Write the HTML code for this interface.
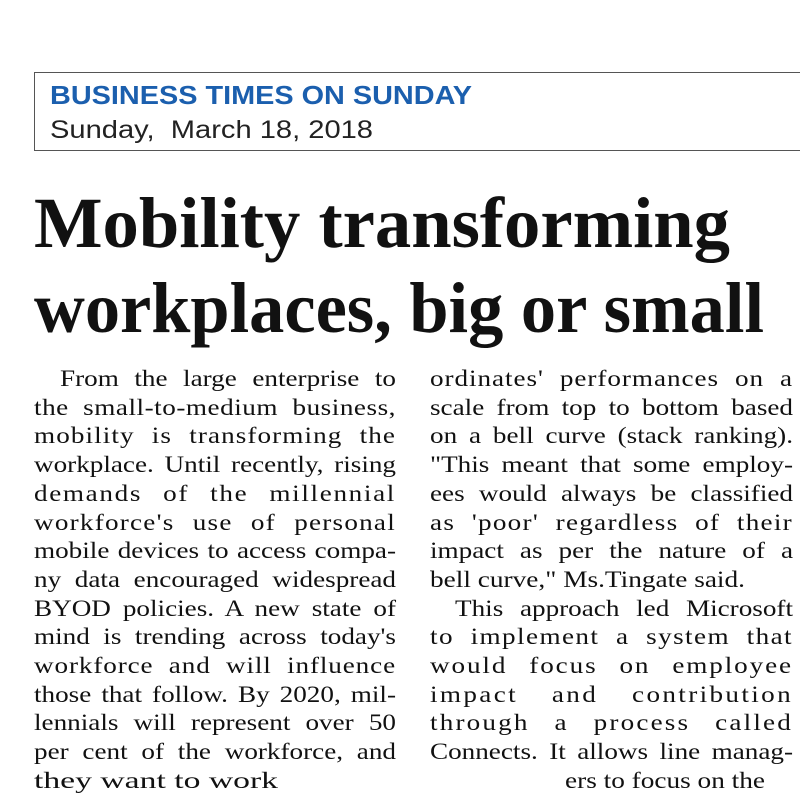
<!DOCTYPE html>
<html><head><meta charset="utf-8"><style>
html,body{margin:0;padding:0;background:#fff;}
body{width:800px;height:800px;position:relative;overflow:hidden;}
.box{position:absolute;left:34px;top:72px;width:800px;height:79px;border:1px solid #555;box-sizing:border-box;}
.t{position:absolute;white-space:pre;transform-origin:0 0;}
.bt{left:50px;top:80px;font:bold 26px "Liberation Sans",sans-serif;color:#1b5fae;}
.dt{left:50px;top:116px;font:25px "Liberation Sans",sans-serif;color:#222;}
.hl{font:bold 72px "Liberation Serif",serif;color:#111;left:34px;}
.ln{font:23px "Liberation Serif",serif;color:#111;}
</style></head><body>
<div class="box"></div>
<div class="t bt" data-w="422">BUSINESS TIMES ON SUNDAY</div>
<div class="t dt" data-w="323">Sunday,  March 18, 2018</div>
<div class="t hl" style="top:182px" data-w="696">Mobility transforming</div>
<div class="t hl" style="top:267px" data-w="730">workplaces, big or small</div>
<div id="body"></div>
<script>
const left=[
["From the large enterprise to",60,396,0],
["the small-to-medium business,",34,396,0],
["mobility is transforming the",34,396,0],
["workplace. Until recently, rising",34,396,0],
["demands of the millennial",34,396,0],
["workforce's use of personal",34,396,0],
["mobile devices to access compa-",34,396,0],
["ny data encouraged widespread",34,396,0],
["BYOD policies. A new state of",34,396,0],
["mind is trending across today's",34,396,0],
["workforce and will influence",34,396,0],
["those that follow. By 2020, mil-",34,396,0],
["lennials will represent over 50",34,396,0],
["per cent of the workforce, and",34,396,0],
["they want to work",34,278,1]];
const right=[
["ordinates' performances on a",430,793,0],
["scale from top to bottom based",430,793,0],
["on a bell curve (stack ranking).",430,793,0],
["\"This meant that some employ-",430,793,0],
["ees would always be classified",430,793,0],
["as 'poor' regardless of their",430,793,0],
["impact as per the nature of a",430,793,0],
["bell curve,\" Ms.Tingate said.",430,745,1],
["This approach led Microsoft",455,793,0],
["to implement a system that",430,793,0],
["would focus on employee",430,793,0],
["impact and contribution",430,793,0],
["through a process called",430,793,0],
["Connects. It allows line manag-",430,793,0],
["ers to focus on the",565,765,1]];
const body=document.getElementById('body');
function add(arr,col){arr.forEach((l,i)=>{const d=document.createElement('div');
d.className='t ln';d.textContent=l[0];d.style.left=l[1]+'px';d.style.top=(366+i*28.7)+'px';
d.dataset.w=l[2]-l[1];d.dataset.last=l[3];


body.appendChild(d);});}
add(left,'left');add(right,'right');
document.querySelectorAll('.t').forEach(e=>{const w=+e.dataset.w;if(!w)return;
const nat=e.getBoundingClientRect().width;
if(!e.classList.contains('ln')||e.dataset.last==='1'){e.style.transform='scaleX('+(w/nat)+')';return;}
const txt=e.textContent;const n=txt.split(' ').length-1;
let s=1.18;
if(nat*s>w||n<1){s=w/nat;}
else{let extra=w/s-nat;
 if(extra/n>10){const c=txt.length-1;const ls=extra*0.5/c;e.style.letterSpacing=ls+'px';
  const nat2=e.getBoundingClientRect().width;extra=w/s-nat2;}
 e.style.wordSpacing=(extra/n)+'px';}
e.style.transform='scaleX('+s+')';});
</script>
</body></html>
